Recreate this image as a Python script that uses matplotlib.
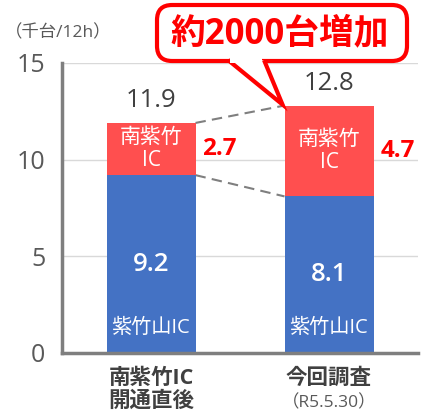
import matplotlib
matplotlib.use("Agg")
import matplotlib.pyplot as plt
from matplotlib.patches import FancyBboxPatch, Polygon

FAM = ['Open Sans', 'Noto Sans CJK JP', 'DejaVu Sans']
plt.rcParams['font.family'] = FAM

categories = ["南紫竹IC\n開通直後", "今回調査"]
sub_labels = ["", "（R5.5.30）"]
shichikuyama = [9.2, 8.1]
minamishichiku = [2.7, 4.7]
totals = [11.9, 12.8]
callout_text = "約2000台増加"
y_ticks = [0, 5, 10, 15]

BLUE = "#4472C4"
RED = "#FF4F4F"
GRAY_TXT = "#595959"
DARK = "#404040"

fig = plt.figure(figsize=(4.32, 4.17), dpi=100)
ax = fig.add_axes([62/432, 1-353/417, 356/432, 290/417])

x = [0, 1]
w = 0.5
ax.bar(x, shichikuyama, width=w, color=BLUE, zorder=3)
ax.bar(x, minamishichiku, width=w, bottom=shichikuyama, color=RED, zorder=3)

ax.set_xlim(-0.5, 1.5)
ax.set_ylim(0, 15)
ax.set_yticks(y_ticks)
ax.set_yticklabels([str(t) for t in y_ticks], fontsize=18, color=GRAY_TXT)
ax.tick_params(axis='y', length=0, pad=12)
ax.set_xticks([])
ax.grid(axis='y', color='#d9d9d9', lw=1, zorder=0)
for s in ['top', 'right']:
    ax.spines[s].set_visible(False)
for s in ['left', 'bottom']:
    ax.spines[s].set_color('#7f7f7f')
    ax.spines[s].set_linewidth(2.5)
    ax.spines[s].set_zorder(4)

# connector dashed lines
ax.plot([x[0]+w/2, x[1]-w/2], [totals[0], totals[1]], ls=(0, (5, 3)), color='#7f7f7f', lw=1.5, zorder=2)
ax.plot([x[0]+w/2, x[1]-w/2], [shichikuyama[0], shichikuyama[1]], ls=(0, (5, 3)), color='#7f7f7f', lw=1.5, zorder=2)

for i in range(2):
    b = shichikuyama[i]
    r = minamishichiku[i]
    ax.annotate(f"{totals[i]}", (x[i], totals[i]), xytext=(0, 7), textcoords='offset points',
                ha='center', va='bottom', fontsize=18.5, color=DARK, zorder=5)
    ax.text(x[i], b/2, f"{b}", ha='center', va='center', fontsize=18.5, fontweight='semibold', color='white', zorder=5)
    ax.annotate("紫竹山IC", (x[i], 0), xytext=(0, 18), textcoords='offset points',
                ha='center', va='center', fontsize=14.5, color='white', zorder=5)
    ax.text(x[i], b + r/2, "南紫竹\nIC", ha='center', va='center', fontsize=15, color='white',
            linespacing=1.1, zorder=5)
    ax.annotate(f"{r}", (x[i]+w/2, b + r/2), xytext=(5, 0), textcoords='offset points',
                ha='left', va='center', fontsize=17.5, fontweight='bold', color='#FF0000', zorder=5)

# category labels
ax.annotate("南紫竹IC", (x[0], 0), xycoords='data', xytext=(0, -18), textcoords='offset points',
            ha='center', va='center', fontsize=15.5, fontweight='bold', color=DARK, annotation_clip=False)
ax.annotate("開通直後", (x[0], 0), xycoords='data', xytext=(0, -35), textcoords='offset points',
            ha='center', va='center', fontsize=15.5, fontweight='bold', color=DARK, annotation_clip=False)
ax.annotate("今回調査", (x[1], 0), xycoords='data', xytext=(0, -18), textcoords='offset points',
            ha='center', va='center', fontsize=15.5, fontweight='bold', color=DARK, annotation_clip=False)
ax.annotate(sub_labels[1], (x[1], 0), xycoords='data', xytext=(0, -36), textcoords='offset points',
            ha='center', va='center', fontsize=12.5, color=GRAY_TXT, annotation_clip=False)

# unit label
fig.text(5/432, 1-33/417, "（千台/12h）", ha='left', va='center', fontsize=12.5, color=GRAY_TXT)

# callout (figure pixel coords)
H = 417
def fp(px, py):
    return (px/432, 1-py/H)

tip_disp = ax.transData.transform((x[1]-w/2, totals[1]))
tip = fig.transFigure.inverted().transform(tip_disp)
tip = (tip[0] - 2/432, tip[1] + 1/H)

rx0, ry0, rx1, ry1 = 157, 5, 407, 61
box = FancyBboxPatch(fp(rx0, ry1), (rx1-rx0)/432, (ry1-ry0)/H,
                     boxstyle="round,pad=0,rounding_size=0.035",
                     transform=fig.transFigure, facecolor='white', edgecolor='#FF0000',
                     lw=3, zorder=10, mutation_aspect=432/H)
fig.patches.append(box)
ptr = Polygon([fp(228, 60), tip, fp(264, 60)], closed=False, transform=fig.transFigure,
              facecolor='white', edgecolor='#FF0000', lw=3, zorder=11, joinstyle='miter')
fig.patches.append(ptr)
cover = Polygon([fp(230, 57), fp(230, 63), fp(262, 63), fp(262, 57)], closed=True,
                transform=fig.transFigure, facecolor='white', edgecolor='none', zorder=12)
fig.patches.append(cover)
fig.text(*fp(280, 34), callout_text, ha='center', va='center', fontsize=25, fontweight='bold',
         color='#FF0000', zorder=13)

fig.savefig("out.png", dpi=100)
